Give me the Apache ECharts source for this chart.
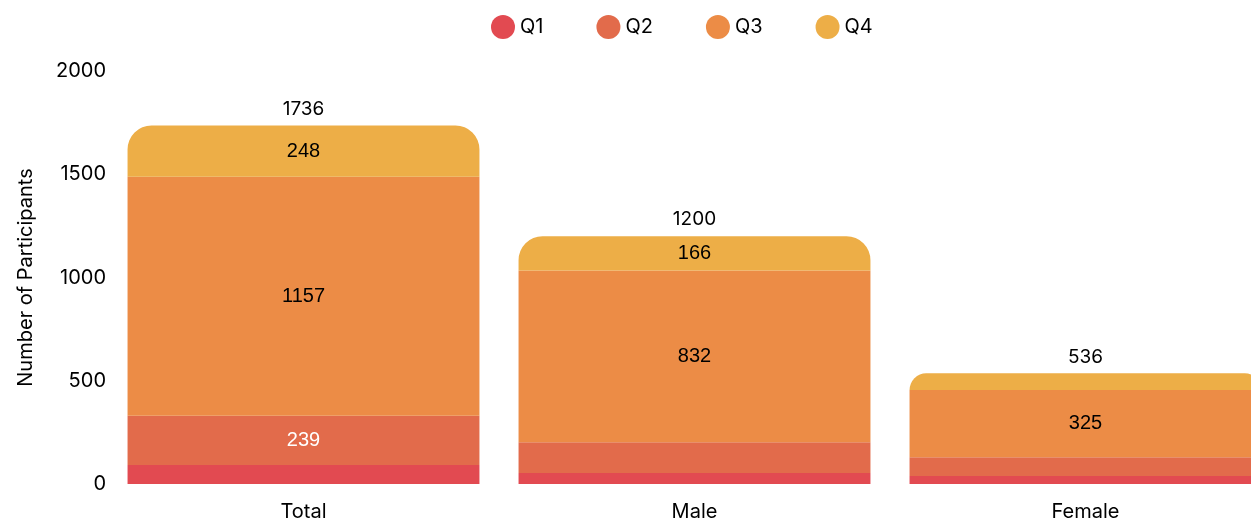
<!DOCTYPE html>
<html><head><meta charset="utf-8">
<script src="https://cdn.jsdelivr.net/npm/echarts@6/dist/echarts.min.js"></script>
<style>html,body{margin:0;padding:0;background:#fff}#c{width:1251px;height:520px}</style>
</head><body><div id="c"></div>
<script>
const categories = ['Total', 'Male', 'Female'];
const q1 = [92, 53, 39];
const q2 = [239, 149, 91];
const q3 = [1157, 832, 325];
const q4 = [248, 166, 81];
const totals = [1736, 1200, 536];
const seriesNames = ['Q1', 'Q2', 'Q3', 'Q4'];
const colors = ['#E24A51', '#E26B4B', '#EC8C46', '#EDAE47'];
const labelColors = ['#000', '#fff', '#000', '#000'];
const yTicks = [0, 500, 1000, 1500, 2000];

const FONT = 'Inter';
const chart = echarts.init(document.getElementById('c'), null, {renderer: 'canvas'});
const data = [q1, q2, q3, q4];
const series = data.map((d, i) => ({
  name: seriesNames[i],
  type: 'bar',
  stack: 's',
  barCategoryGap: '10%',
  data: d,
  itemStyle: {color: colors[i], borderRadius: i === 3 ? [24, 24, 0, 0] : 0},
  label: {
    show: true, position: 'inside', color: labelColors[i],
    fontFamily: 'Liberation Sans', fontSize: 20,
    formatter: p => p.value >= 160 ? String(p.value) : ''
  }
}));
series.push({
  name: 'Sum', type: 'bar', stack: 's', data: totals.map(() => 0),
  itemStyle: {color: 'transparent'},
  label: {show: true, position: 'top', distance: 7, color: '#000', fontFamily: FONT, fontSize: 19,
    formatter: p => String(totals[p.dataIndex])}
});
chart.setOption({
  animation: false,
  color: colors,
  legend: {
    data: seriesNames, top: 10, left: 486, icon: 'circle',
    itemWidth: 24, itemHeight: 24, itemGap: 53,
    textStyle: {fontFamily: FONT, fontSize: 20, color: '#000'}
  },
  grid: {left: 108, top: 71, bottom: 36, right: -30, containLabel: false, outerBoundsMode: 'none'},
  xAxis: {
    type: 'category', data: categories,
    axisLine: {show: false}, axisTick: {show: false},
    axisLabel: {fontFamily: FONT, fontSize: 20, color: '#000', margin: 18}
  },
  yAxis: {
    type: 'value', min: yTicks[0], max: yTicks[yTicks.length - 1], interval: 500,
    name: 'Number of Participants', nameLocation: 'middle', nameGap: 72,
    nameTextStyle: {fontFamily: FONT, fontSize: 20, color: '#000'},
    splitLine: {show: false}, axisLine: {show: false}, axisTick: {show: false},
    axisLabel: {fontFamily: FONT, fontSize: 20, color: '#000', margin: 2, formatter: v => String(v)}
  },
  series: series
});
</script></body></html>
